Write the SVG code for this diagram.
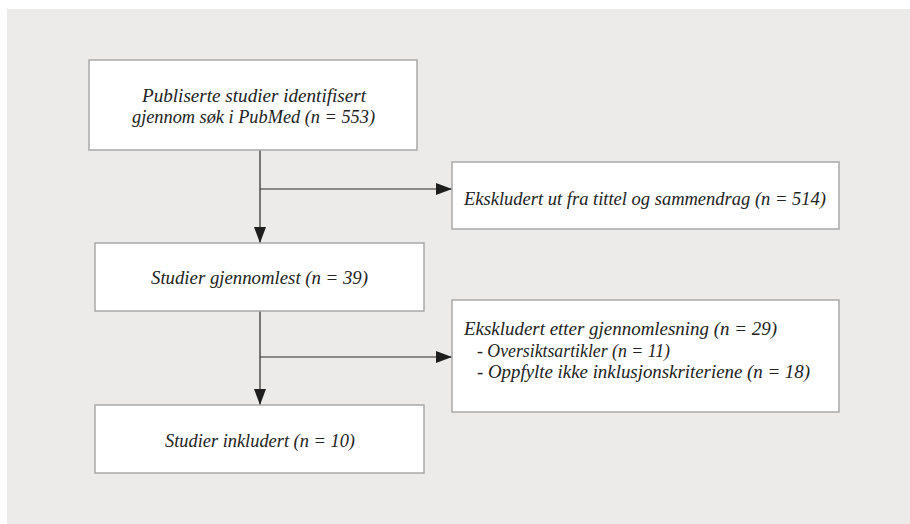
<svg xmlns="http://www.w3.org/2000/svg" width="910" height="524" viewBox="0 0 910 524">
<defs>
<style>
.bg{fill:#ECEBE9}
.box{fill:#FFFFFF;stroke:#A9A9A9;stroke-width:1.5}
.t{font-family:"Liberation Serif","DejaVu Serif",serif;font-style:italic;font-size:19px;fill:#222222}
.c{text-anchor:middle}
.ln{fill:none;stroke:#2B2B2B;stroke-width:1.2}
</style>
<marker id="ah" viewBox="0 0 16 12" refX="16" refY="6" markerWidth="16" markerHeight="12" markerUnits="userSpaceOnUse" orient="auto">
<path d="M0,0 L16,6 L0,12 Z" fill="#1E1E1E"/>
</marker>
</defs>
<rect class="bg" x="7" y="9" width="903" height="515"/>
<g id="connectors">
<line class="ln" x1="260" y1="150" x2="260" y2="243" marker-end="url(#ah)"/>
<line class="ln" x1="260" y1="189" x2="452" y2="189" marker-end="url(#ah)"/>
<line class="ln" x1="260" y1="311" x2="260" y2="405" marker-end="url(#ah)"/>
<line class="ln" x1="260" y1="357" x2="452" y2="357" marker-end="url(#ah)"/>
</g>
<g id="n1">
<rect class="box" x="89" y="60" width="328" height="90"/>
<text class="t" x="142" y="102" textLength="224" lengthAdjust="spacingAndGlyphs">Publiserte studier identifisert</text>
<text class="t" x="132" y="123" textLength="243" lengthAdjust="spacingAndGlyphs">gjennom søk i PubMed (n = 553)</text>
</g>
<g id="n2">
<rect class="box" x="452" y="162" width="387" height="67"/>
<text class="t" x="464" y="205" textLength="362" lengthAdjust="spacingAndGlyphs">Ekskludert ut fra tittel og sammendrag (n = 514)</text>
</g>
<g id="n3">
<rect class="box" x="95" y="243" width="329" height="68"/>
<text class="t" x="151" y="284" textLength="217" lengthAdjust="spacingAndGlyphs">Studier gjennomlest (n = 39)</text>
</g>
<g id="n4">
<rect class="box" x="95" y="405" width="329" height="68"/>
<text class="t" x="165" y="447" textLength="190" lengthAdjust="spacingAndGlyphs">Studier inkludert (n = 10)</text>
</g>
<g id="n5">
<rect class="box" x="452" y="300" width="387" height="112"/>
<text class="t" x="464" y="335" textLength="313" lengthAdjust="spacingAndGlyphs">Ekskludert etter gjennomlesning (n = 29)</text>
<text class="t" x="477" y="357" textLength="193" lengthAdjust="spacingAndGlyphs">- Oversiktsartikler (n = 11)</text>
<text class="t" x="477" y="378" textLength="333" lengthAdjust="spacingAndGlyphs">- Oppfylte ikke inklusjonskriteriene (n = 18)</text>
</g>
</svg>
